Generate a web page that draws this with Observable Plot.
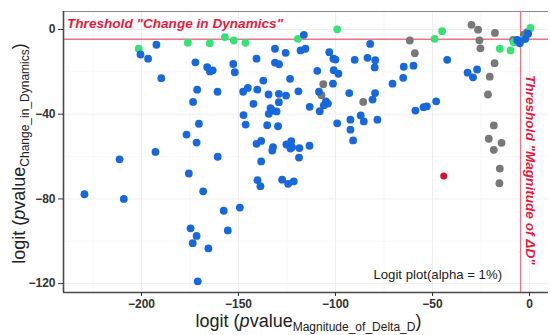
<!DOCTYPE html>
<html><head><meta charset="utf-8">
<script src="https://cdn.jsdelivr.net/npm/d3@7"></script>
<script src="https://cdn.jsdelivr.net/npm/@observablehq/plot@0.6"></script>
<style>
body{margin:0;background:#fff;}
#chart svg{display:block;}
</style>
</head><body><div id="chart"></div>
<script>
// ---- data ----
const xTicks = [-200, -150, -100, -50, 0];
const yTicks = [-120, -80, -40, 0];
const xMinor = [-225, -175, -125, -75, -25];
const yMinor = [-100, -60, -20];
const xDomain = [-240.2, 9.8];
const yDomain = [-124.2, 8.5];
const alpha = 0.01;
const threshold = Math.log(alpha / (1 - alpha)); // logit(1%)

const blueX = [-192.3,-200.5,-196.6,-189.8,-172.2,-166.1,-164.7,-163.3,-152.7,-151.9,-140.7,-131.2,-131.2,-129.1,-137.2,-171.3,-160.8,-147.6,-145.2,-140.3,-134.5,-173.4,-142.3,-133.5,-132.5,-130.4,-134.4,-147.4,-170.4,-146.3,-135.2,-129.6,-176.8,-171.6,-140.7,-138.3,-132.2,-132.6,-192.8,-211.3,-160.7,-138.3,-175.6,-229.4,-209.1,-168.2,-140.2,-138.7,-157.6,-149.3,-174.7,-171.6,-173.6,-155.5,-165.5,-171.0,-116.3,-82.1,-125.7,-118.0,-115.5,-103.2,-101.1,-100.0,-90.1,-83.5,-79.5,-79.8,-109.4,-100.9,-98.5,-123.4,-101.3,-64.8,-59.8,-65.1,-70.6,-42.4,-31.9,-29.1,-27.0,-119.1,-129.2,-125.5,-129.2,-108.5,-92.9,-79.6,-80.9,-113.3,-104.9,-103.9,-106.0,-108.1,-99.1,-92.3,-87.0,-85.4,-78.4,-92.3,-90.9,-58.8,-54.6,-52.9,-48.1,-125.3,-122.8,-122.4,-123.2,-118.6,-113.4,-118.8,-127.5,-124.4,-121.5,-0.7,-2.1,-5.5,-6.3,-5.0];
const blueY = [-7.2,-11.8,-13.8,-23.0,-15.5,-17.8,-19.8,-19.3,-16.3,-20.2,-13.8,-9.1,-15.6,-16.4,-24.1,-28.4,-29.4,-29.4,-27.6,-28.4,-30.7,-34.2,-35.1,-37.1,-38.3,-38.7,-39.8,-40.4,-44.5,-44.9,-45.2,-45.7,-49.6,-53.4,-54.0,-52.6,-55.6,-57.2,-57.8,-61.3,-60.1,-62.3,-68.0,-77.8,-80.0,-76.4,-71.2,-74.0,-85.6,-84.1,-93.9,-97.5,-100.9,-94.9,-103.4,-118.9,-2.5,-6.8,-11.0,-9.9,-9.1,-10.7,-13.8,-14.2,-14.3,-13.4,-14.5,-17.9,-19.5,-19.2,-20.9,-23.3,-25.6,-17.6,-17.1,-22.8,-25.6,-14.3,-20.4,-22.6,-18.9,-29.2,-30.4,-31.2,-34.3,-29.4,-30.0,-30.0,-33.1,-36.5,-33.9,-35.0,-35.8,-38.6,-44.3,-42.6,-40.6,-43.4,-42.6,-47.3,-52.4,-38.3,-36.7,-36.3,-33.9,-54.3,-52.7,-55.6,-56.2,-56.0,-54.9,-60.5,-70.9,-72.9,-71.7,-2.0,-4.4,-5.5,-4.9,-6.5];

const greenX = [-201.4,-176.1,-164.8,-157.0,-152.4,-146.4,-119.4,-99.1,-48.9,-45.0,-15.3,-9.8,0.5,-8.1,-3.8,-2.4];
const greenY = [-9.1,-6.2,-6.5,-3.6,-5.2,-6.3,-4.4,0.1,-4.4,-0.8,-9.1,-9.9,0.7,-6.0,-4.9,-4.4];

const grayX = [-61.7,-59.1,-29.9,-26.5,-25.8,-25.3,-17.8,-18.0,-20.5,-21.4,-18.4,-21.0,-14.4,-18.4,-15.3,-15.5,-106.3,-107.2,-85.7,-2.9,-1.2,-8.4];
const grayY = [-5.2,-11.2,2.2,-0.1,-5.1,-8.9,-1.6,-15.9,-22.3,-30.7,-45.3,-51.6,-53.5,-56.8,-65.7,-72.6,-25.8,-31.0,-34.2,-2.4,-1.3,-4.9];

const redX = [-44.2];
const redY = [-69.2];

const toRows = (xs, ys) => xs.map((x, i) => ({x, y: ys[i]}));
const blue = toRows(blueX, blueY), green = toRows(greenX, greenY),
      gray = toRows(grayX, grayY), red = toRows(redX, redY);

const C = {blue: "#1668dc", green: "#35e374", gray: "#787878", red: "#d5112b", thr: "#f2728a"};
const R = 3.9;

const plot = Plot.plot({
  width: 550, height: 335,
  marginLeft: 63, marginRight: 2, marginTop: 11, marginBottom: 43,
  style: {fontFamily: "'Liberation Sans', Arial, sans-serif", color: "#333", background: "#fff"},
  x: {domain: xDomain, label: null},
  y: {domain: yDomain, label: null},
  marks: [
    Plot.ruleX(xMinor, {stroke: "#f3f3f3", strokeWidth: 0.6}),
    Plot.ruleY(yMinor, {stroke: "#f3f3f3", strokeWidth: 0.6}),
    Plot.ruleX(xTicks, {stroke: "#ececec", strokeWidth: 0.9}),
    Plot.ruleY(yTicks, {stroke: "#ececec", strokeWidth: 0.9}),
    Plot.ruleY([yDomain[1]], {stroke: "#8a8a8a", strokeWidth: 1.2}),
    Plot.ruleY([threshold], {stroke: C.thr, strokeWidth: 1.3}),
    Plot.ruleX([threshold], {stroke: C.thr, strokeWidth: 1.3}),
    Plot.dot(gray, {x: "x", y: "y", r: R, fill: C.gray}),
    Plot.dot(green, {x: "x", y: "y", r: R, fill: C.green}),
    Plot.dot(blue, {x: "x", y: "y", r: R, fill: C.blue}),
    Plot.dot(red, {x: "x", y: "y", r: R * 0.9, fill: C.red}),
    Plot.ruleX([xDomain[0]], {stroke: "#4a4a4a", strokeWidth: 1.6}),
    Plot.ruleY([yDomain[0]], {stroke: "#4a4a4a", strokeWidth: 1.6}),
    Plot.axisX({ticks: xTicks, tickSize: 4, tickPadding: 3, fontSize: 12, fontWeight: "bold", label: null}),
    Plot.axisY({ticks: yTicks, tickSize: 5, tickPadding: 3, fontSize: 12, fontWeight: "bold", label: null})
  ]
});
document.getElementById("chart").appendChild(plot);

const sx = plot.scale("x"), sy = plot.scale("y");
const svg = d3.select(plot);
const FF = "'Liberation Sans', Arial, sans-serif";

// Threshold annotations
svg.append("text")
  .attr("x", sx.apply(xDomain[0]) + 4).attr("y", sy.apply(threshold) - 11)
  .attr("style", `font-family:${FF};font-size:13.6px;font-weight:bold;font-style:italic;fill:#e8193c;text-anchor:start`)
  .text('Threshold "Change in Dynamics"');

svg.append("text")
  .attr("transform", `translate(${sx.apply(threshold) + 6},${sy.apply(yDomain[1]) + 64}) rotate(90)`)
  .attr("style", `font-family:${FF};font-size:13.6px;font-weight:bold;font-style:italic;fill:#e8193c;text-anchor:start`)
  .text('Threshold "Magnitude of ΔD"');

svg.append("text")
  .attr("x", sx.apply(threshold) - 18).attr("y", sy.apply(yDomain[0]) - 13)
  .attr("style", `font-family:${FF};font-size:13.2px;fill:#222;text-anchor:end`)
  .text("Logit plot(alpha = 1%)");

// Axis titles with subscripts
function title(sel, sub) {
  sel.attr("style", `font-family:${FF};font-size:18px;fill:#222;text-anchor:middle`);
  sel.append("tspan").text("logit (");
  sel.append("tspan").attr("style", "font-style:italic").text("p");
  sel.append("tspan").text("value");
  sel.append("tspan").attr("dy", 4).attr("style", "font-size:12px").text(sub);
  sel.append("tspan").attr("dy", -4).text(")");
}
const xmid = (sx.apply(xDomain[0]) + sx.apply(xDomain[1])) / 2;
const ymid = (sy.apply(yDomain[0]) + sy.apply(yDomain[1])) / 2;
title(svg.append("text").attr("x", xmid + 3).attr("y", 327), "Magnitude_of_Delta_D");
title(svg.append("text").attr("transform", `translate(25,${ymid + 2}) rotate(-90)`), "Change_in_Dynamics");
</script>
</body></html>
